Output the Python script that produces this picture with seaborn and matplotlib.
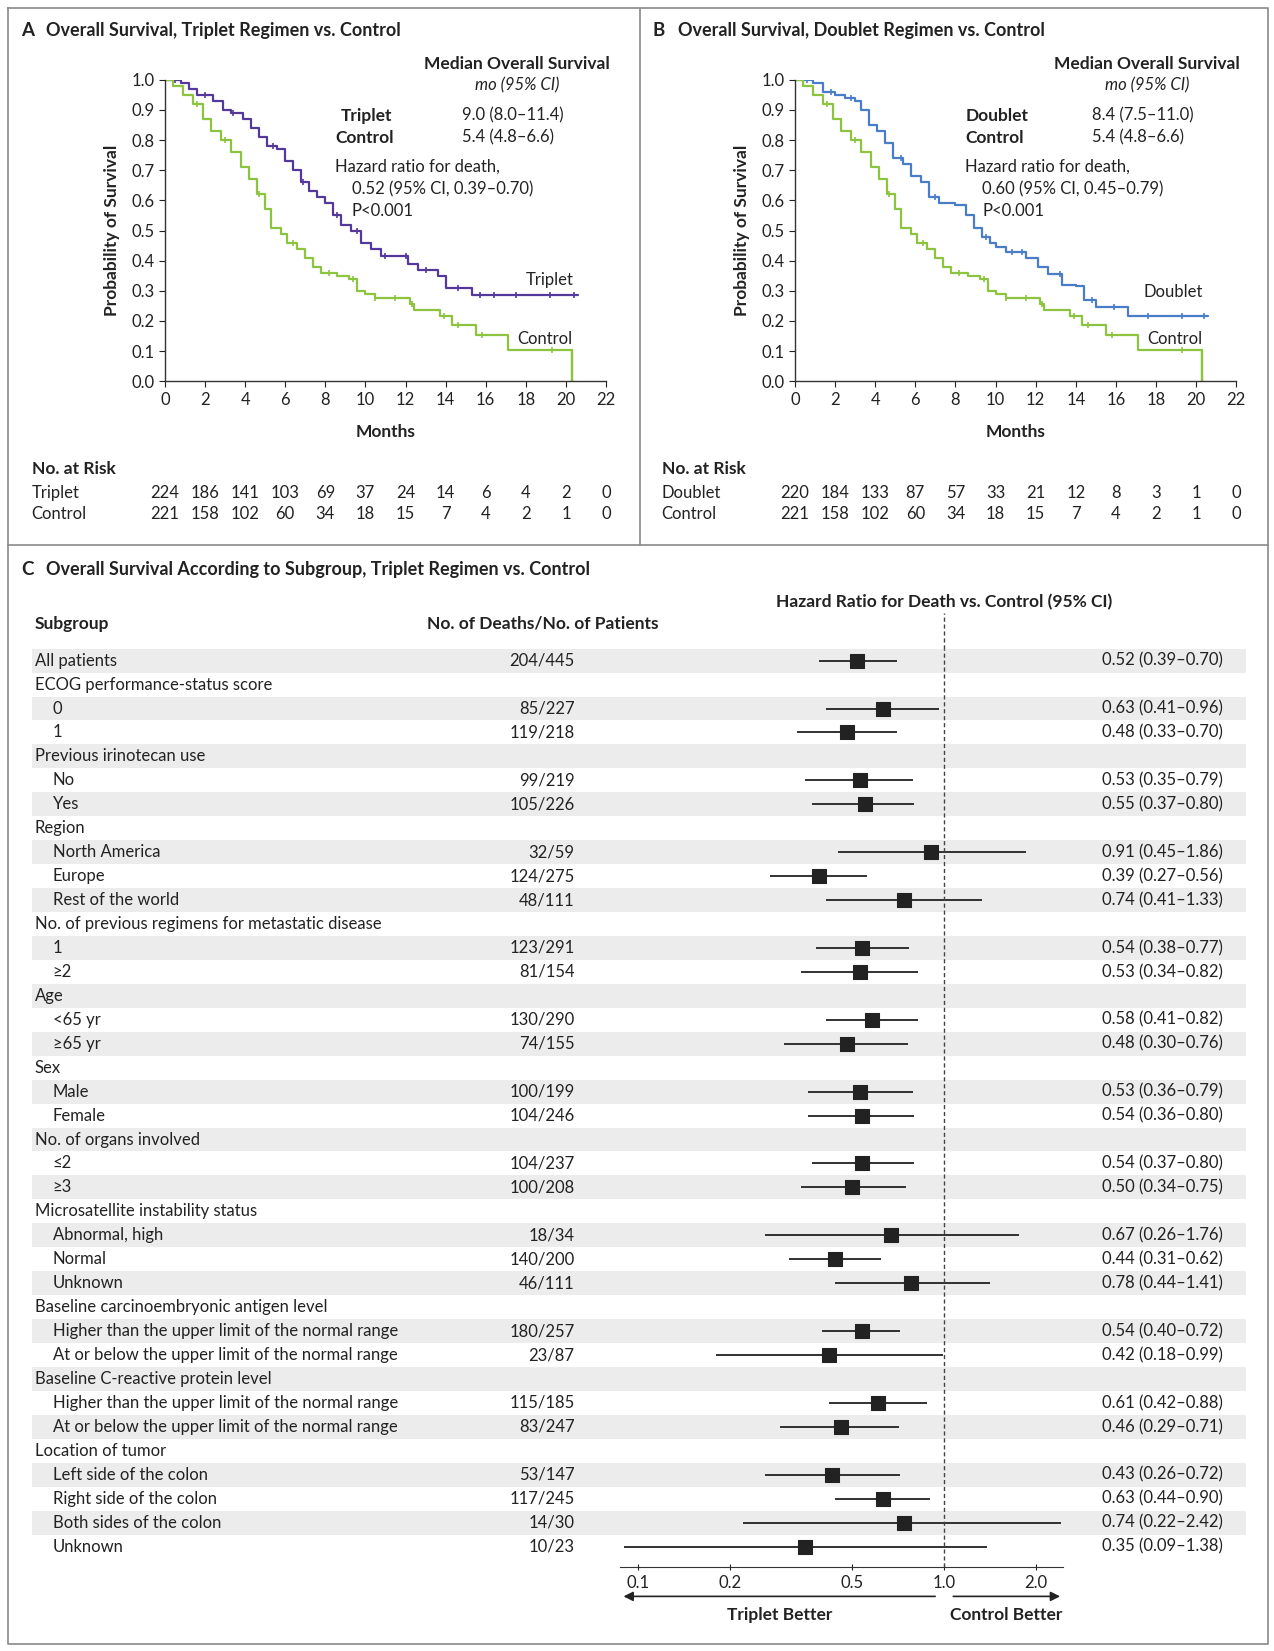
import matplotlib
matplotlib.use("Agg")
import matplotlib.pyplot as plt
import seaborn as sns
import numpy as np
import pandas as pd
from matplotlib.transforms import blended_transform_factory as btf

# ---------------- DATA ----------------
trip_t = [0, 0.8, 1.2, 1.6, 2.4, 2.9, 3.3, 3.9, 4.3, 4.7, 5.1, 5.6, 6.0, 6.4, 6.8, 7.2, 7.6, 8.0, 8.4, 8.8, 9.3, 9.8, 10.3, 10.8, 11.6, 12.1, 12.6, 13.6, 14.0, 15.3, 20.6]
trip_s = [1.0, 0.99, 0.97, 0.95, 0.93, 0.90, 0.89, 0.87, 0.84, 0.81, 0.78, 0.77, 0.73, 0.70, 0.66, 0.63, 0.61, 0.59, 0.55, 0.52, 0.50, 0.46, 0.44, 0.415, 0.415, 0.39, 0.37, 0.35, 0.31, 0.285, 0.285]
ctrl_t = [0, 0.4, 0.9, 1.4, 1.9, 2.3, 2.8, 3.3, 3.8, 4.2, 4.6, 5.0, 5.3, 5.8, 6.1, 6.6, 7.0, 7.4, 7.8, 8.6, 9.2, 9.6, 10.0, 10.5, 12.2, 12.4, 13.7, 14.3, 15.5, 17.1, 20.3, 20.3]
ctrl_s = [1.0, 0.98, 0.95, 0.92, 0.87, 0.83, 0.80, 0.76, 0.71, 0.67, 0.62, 0.57, 0.51, 0.49, 0.46, 0.44, 0.41, 0.38, 0.36, 0.35, 0.34, 0.30, 0.29, 0.275, 0.255, 0.235, 0.215, 0.185, 0.155, 0.105, 0.105, 0.0]
doub_t = [0, 0.9, 1.4, 2.0, 2.5, 3.0, 3.3, 3.7, 4.1, 4.5, 4.9, 5.4, 5.8, 6.3, 6.7, 7.2, 8.0, 8.5, 8.9, 9.3, 9.7, 10.0, 10.5, 11.5, 12.1, 12.6, 13.3, 14.0, 14.4, 15.0, 16.6, 20.6]
doub_s = [1.0, 0.99, 0.96, 0.95, 0.94, 0.93, 0.90, 0.85, 0.83, 0.79, 0.74, 0.72, 0.68, 0.66, 0.61, 0.59, 0.585, 0.55, 0.51, 0.48, 0.46, 0.445, 0.43, 0.41, 0.38, 0.355, 0.32, 0.315, 0.27, 0.245, 0.215, 0.215]
trip_cens = [0.5, 2.0, 3.4, 5.4, 6.9, 8.6, 9.6, 11.0, 12.0, 13.0, 14.6, 15.7, 16.4, 17.5, 19.2, 20.4]
ctrl_cens = [1.6, 3.0, 4.7, 6.4, 8.2, 9.4, 10.5, 11.5, 12.3, 13.9, 14.6, 15.8, 19.3]
doub_cens = [0.6, 1.8, 2.8, 5.3, 7.0, 9.5, 10.8, 11.3, 13.2, 14.8, 15.9, 17.6, 19.3, 20.4]
risk_months = [0, 2, 4, 6, 8, 10, 12, 14, 16, 18, 20, 22]
risk_trip = [224, 186, 141, 103, 69, 37, 24, 14, 6, 4, 2, 0]
risk_doub = [220, 184, 133, 87, 57, 33, 21, 12, 8, 3, 1, 0]
risk_ctrl = [221, 158, 102, 60, 34, 18, 15, 7, 4, 2, 1, 0]

sub_labels = ["All patients", "ECOG performance-status score", "0", "1", "Previous irinotecan use", "No", "Yes",
              "Region", "North America", "Europe", "Rest of the world", "No. of previous regimens for metastatic disease",
              "1", "\u22652", "Age", "<65 yr", "\u226565 yr", "Sex", "Male", "Female", "No. of organs involved",
              "\u22642", "\u22653", "Microsatellite instability status", "Abnormal, high", "Normal", "Unknown",
              "Baseline carcinoembryonic antigen level", "Higher than the upper limit of the normal range",
              "At or below the upper limit of the normal range", "Baseline C-reactive protein level",
              "Higher than the upper limit of the normal range", "At or below the upper limit of the normal range",
              "Location of tumor", "Left side of the colon", "Right side of the colon", "Both sides of the colon", "Unknown"]
sub_is_header = [1, 1, 0, 0, 1, 0, 0, 1, 0, 0, 0, 1, 0, 0, 1, 0, 0, 1, 0, 0, 1, 0, 0, 1, 0, 0, 0, 1, 0, 0, 1, 0, 0, 1, 0, 0, 0, 0]
deaths = ["204/445", "", "85/227", "119/218", "", "99/219", "105/226", "", "32/59", "124/275", "48/111", "",
          "123/291", "81/154", "", "130/290", "74/155", "", "100/199", "104/246", "", "104/237", "100/208", "",
          "18/34", "140/200", "46/111", "", "180/257", "23/87", "", "115/185", "83/247", "", "53/147", "117/245", "14/30", "10/23"]
hr = [0.52, None, 0.63, 0.48, None, 0.53, 0.55, None, 0.91, 0.39, 0.74, None, 0.54, 0.53, None, 0.58, 0.48, None,
      0.53, 0.54, None, 0.54, 0.50, None, 0.67, 0.44, 0.78, None, 0.54, 0.42, None, 0.61, 0.46, None, 0.43, 0.63, 0.74, 0.35]
lo = [0.39, None, 0.41, 0.33, None, 0.35, 0.37, None, 0.45, 0.27, 0.41, None, 0.38, 0.34, None, 0.41, 0.30, None,
      0.36, 0.36, None, 0.37, 0.34, None, 0.26, 0.31, 0.44, None, 0.40, 0.18, None, 0.42, 0.29, None, 0.26, 0.44, 0.22, 0.09]
hi = [0.70, None, 0.96, 0.70, None, 0.79, 0.80, None, 1.86, 0.56, 1.33, None, 0.77, 0.82, None, 0.82, 0.76, None,
      0.79, 0.80, None, 0.80, 0.75, None, 1.76, 0.62, 1.41, None, 0.72, 0.99, None, 0.88, 0.71, None, 0.72, 0.90, 2.42, 1.38]
hr_ticks = [0.1, 0.2, 0.5, 1.0, 2.0]

# ---------------- STYLE ----------------
sns.set_style("white")
plt.rcParams['font.family'] = ['Lato', 'DejaVu Sans']
C_TRIP = "#54399b"
C_CTRL = "#8cc43f"
C_DOUB = "#4a7dc8"
TXT = "#222222"
FS = 12
W, H = 1213.0, 1572.0
fig = plt.figure(figsize=(12.74, 16.51), dpi=100)

def fx(x): return x / W
def fy(y): return 1 - y / H
def ftext(x, y, s, **kw):
    kw.setdefault("fontsize", FS)
    kw.setdefault("color", TXT)
    fig.text(fx(x), fy(y), s, va="center", **kw)

frame = fig.add_axes([0, 0, 1, 1], facecolor="none")
frame.set_xlim(0, W); frame.set_ylim(H, 0); frame.axis("off")
fc = "#8a8a8a"
frame.plot([8, 1207, 1207, 8, 8], [8, 8, 1565, 1565, 8], color=fc, lw=1.2)
frame.plot([609, 609], [8, 519], color=fc, lw=1.2)
frame.plot([8, 1207], [519, 519], color=fc, lw=1.2)

def km_panel(xoff, t1, s1, c1, cens1, name, med, hrtxt, risk1, lab_xy):
    ax = fig.add_axes([fx(157 + xoff), fy(363), fx(420), (363 - 76) / H])
    for t, s, c, cens in [(t1, s1, c1, cens1), (ctrl_t, ctrl_s, C_CTRL, ctrl_cens)]:
        df = pd.DataFrame({"t": t, "s": s})
        sns.lineplot(data=df, x="t", y="s", drawstyle="steps-post", color=c, lw=1.6, ax=ax, estimator=None)
        cy = [s[np.searchsorted(t, ct, side="right") - 1] for ct in cens]
        ax.plot(cens, cy, "|", color=c, ms=4, mew=1.2)
    ax.set_xlim(0, 22); ax.set_ylim(0, 1.0)
    ax.set_xticks(range(0, 23, 2)); ax.set_yticks(np.arange(0, 1.01, 0.1))
    ax.set_yticklabels([f"{v:.1f}" for v in np.arange(0, 1.01, 0.1)])
    ax.tick_params(labelsize=FS, colors=TXT, length=4, direction="out", left=True, bottom=True)
    for sp in ["top", "right"]: ax.spines[sp].set_visible(False)
    for sp in ["left", "bottom"]: ax.spines[sp].set_color("#333"); ax.spines[sp].set_linewidth(1)
    ax.set_xlabel("Months", fontsize=12.5, fontweight="bold", color=TXT, labelpad=12)
    ax.set_ylabel("Probability of Survival", fontsize=12.5, fontweight="bold", color=TXT, labelpad=8)
    ftext(492 + xoff, 61, "Median Overall Survival", ha="center", fontweight="bold", fontsize=12.5)
    ftext(492 + xoff, 81, "mo (95% CI)", ha="center", style="italic")
    ftext(349 + xoff, 110, name, ha="center", fontweight="bold", fontsize=12.5)
    ftext(347 + xoff, 131, "Control", ha="center", fontweight="bold", fontsize=12.5)
    ftext(440 + xoff, 110, med)
    ftext(440 + xoff, 131, "5.4 (4.8\u20136.6)")
    ftext(319 + xoff, 159, "Hazard ratio for death,")
    ftext(335 + xoff, 180, hrtxt)
    ftext(335 + xoff, 201, "P<0.001")
    ftext(lab_xy[0] + xoff, lab_xy[1], name, ha="center")
    ftext(519 + xoff, 323, "Control", ha="center")
    ftext(30 + xoff, 447, "No. at Risk", fontweight="bold", fontsize=12.5)
    ftext(30 + xoff, 469, name)
    ftext(30 + xoff, 489, "Control")
    tr = btf(ax.transData, fig.transFigure)
    for m, a, b in zip(risk_months, risk1, risk_ctrl):
        ax.text(m, fy(469), str(a), transform=tr, ha="center", va="center", fontsize=FS, color=TXT)
        ax.text(m, fy(489), str(b), transform=tr, ha="center", va="center", fontsize=FS, color=TXT)

ftext(20, 29, "A", fontweight="bold", fontsize=13.5)
ftext(44, 29, "Overall Survival, Triplet Regimen vs. Control", fontweight="bold", fontsize=13)
ftext(621, 29, "B", fontweight="bold", fontsize=13.5)
ftext(646, 29, "Overall Survival, Doublet Regimen vs. Control", fontweight="bold", fontsize=13)
ftext(20, 542, "C", fontweight="bold", fontsize=13.5)
ftext(44, 542, "Overall Survival According to Subgroup, Triplet Regimen vs. Control", fontweight="bold", fontsize=13)

km_panel(0, trip_t, trip_s, C_TRIP, trip_cens, "Triplet", "9.0 (8.0\u201311.4)",
         "0.52 (95% CI, 0.39\u20130.70)", risk_trip, (523, 267))
km_panel(600, doub_t, doub_s, C_DOUB, doub_cens, "Doublet", "8.4 (7.5\u201311.0)",
         "0.60 (95% CI, 0.45\u20130.79)", risk_doub, (517, 278))

# ---------------- FOREST ----------------
n = len(sub_labels)
row0, dy = 629.0, 22.8
top_px, bot_px = row0 - dy / 2, row0 + dy * (n - 0.5) + 8
ypos = [fy(bot_px), (bot_px - top_px) / H]
bg = fig.add_axes([0, ypos[0], 1, ypos[1]], facecolor="none")
bg.set_xlim(0, W); bg.set_ylim(n - 0.5 + 8 / dy, -0.5); bg.axis("off")
for i in range(0, n, 2):
    bg.axhspan(i - 0.5, i + 0.5, xmin=fx(30), xmax=fx(1186), color="#ececec", lw=0, zorder=0)
for i, lab in enumerate(sub_labels):
    bg.text(33 if sub_is_header[i] else 50, i, lab, va="center", fontsize=FS, color=TXT)
    if deaths[i]:
        bg.text(547, i, deaths[i], va="center", ha="right", fontsize=FS, color=TXT)
    if hr[i] is not None:
        bg.text(1164, i, f"{hr[i]:.2f} ({lo[i]:.2f}\u2013{hi[i]:.2f})", va="center", ha="right", fontsize=FS, color=TXT)
ftext(33, 594, "Subgroup", fontweight="bold", fontsize=12.5)
ftext(517, 594, "No. of Deaths/No. of Patients", ha="center", fontweight="bold", fontsize=12.5)
ftext(899, 573, "Hazard Ratio for Death vs. Control (95% CI)", ha="center", fontweight="bold", fontsize=12.5)

fa = fig.add_axes([fx(590), ypos[0], fx(1012 - 590), ypos[1]], facecolor="none")
fa.set_xscale("log")
fa.set_xlim(0.0868, 2.45)
fa.set_ylim(n - 0.5 + 8 / dy, -0.5)
idx = [i for i in range(n) if hr[i] is not None]
fdf = pd.DataFrame({"y": idx, "hr": [hr[i] for i in idx], "lo": [lo[i] for i in idx], "hi": [hi[i] for i in idx]})
fa.hlines(fdf["y"], fdf["lo"], fdf["hi"], color="#222", lw=1.3)
sns.scatterplot(data=fdf, x="hr", y="y", marker="s", s=95, color="#222", edgecolor="#222", ax=fa, zorder=3, legend=False)
fa.axvline(1.0, ymin=0, ymax=1, color="#444", ls=(0, (3, 2)), lw=1)
fa.plot([1.0, 1.0], [-0.5, -2.0], color="#444", ls=(0, (3, 2)), lw=1, clip_on=False)
fa.set_xticks(hr_ticks); fa.set_xticklabels([f"{v:.1f}" for v in hr_ticks])
fa.minorticks_off()
fa.set_yticks([]); fa.set_xlabel(""); fa.set_ylabel("")
for sp in ["top", "right", "left"]: fa.spines[sp].set_visible(False)
fa.spines["bottom"].set_color("#333")
fa.tick_params(axis="x", labelsize=FS, colors=TXT, length=5, direction="inout", bottom=True)
frame.annotate("", xy=(591, 1520), xytext=(893, 1520), arrowprops=dict(arrowstyle="-|>", color="#222", lw=1.2, mutation_scale=14))
frame.annotate("", xy=(1012, 1520), xytext=(905, 1520), arrowprops=dict(arrowstyle="-|>", color="#222", lw=1.2, mutation_scale=14))
ftext(742, 1538, "Triplet Better", ha="center", fontweight="bold", fontsize=12.5)
ftext(958, 1538, "Control Better", ha="center", fontweight="bold", fontsize=12.5)

fig.savefig("out.png", dpi=100, facecolor="white")
